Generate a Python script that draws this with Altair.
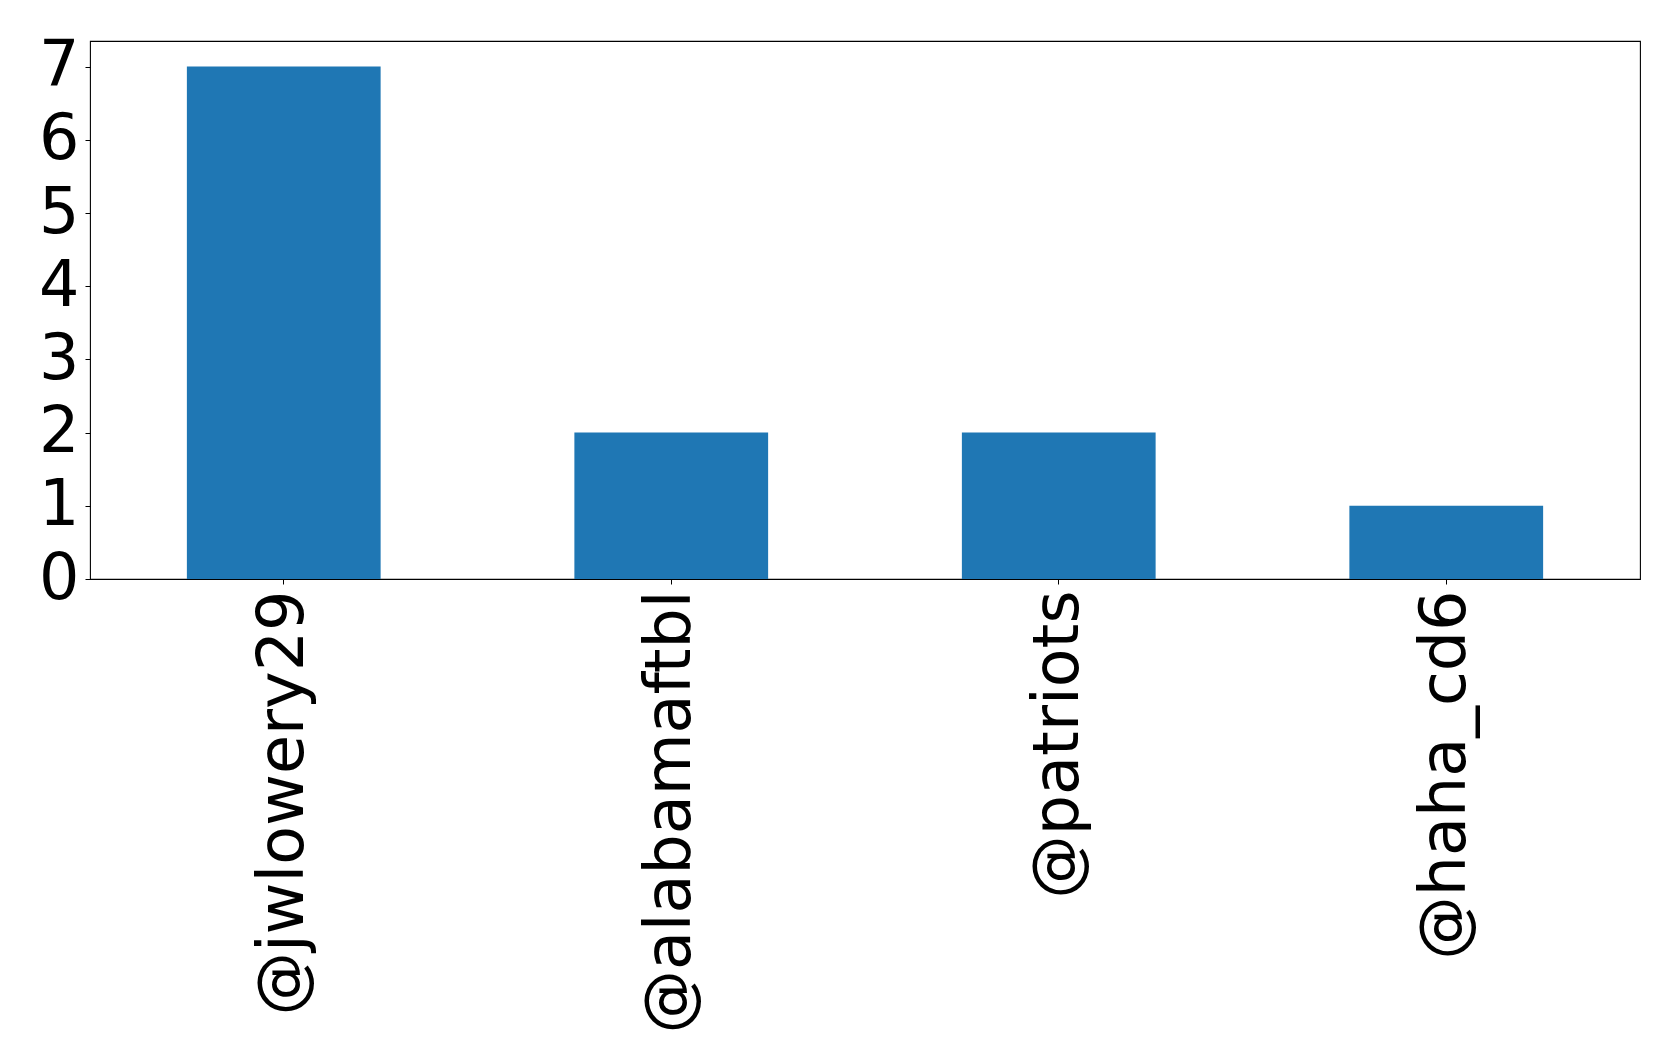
import altair as alt
import pandas as pd

users = ["@jwlowery29", "@alabamaftbl", "@patriots", "@haha_cd6"]
counts = [7, 2, 2, 1]
y_ticks = [0, 1, 2, 3, 4, 5, 6, 7]

df = pd.DataFrame({"user": users, "count": counts})

FONT = "DejaVu Sans"
FS = 63.5

chart = alt.Chart(df).mark_bar(color="#1f77b4").encode(
    x=alt.X(
        "user:N",
        sort=users,
        title=None,
        scale=alt.Scale(paddingInner=0.5, paddingOuter=0.25),
        axis=alt.Axis(
            labelAngle=-90,
            labelAlign="right",
            labelBaseline="middle",
            labelFontSize=FS,
            labelFont=FONT,
            labelColor="black",
            labelPadding=6,
            tickSize=5,
            tickColor="black",
            tickWidth=1,
            domain=False,
            grid=False,
            labelLimit=0,
        ),
    ),
    y=alt.Y(
        "count:Q",
        title=None,
        scale=alt.Scale(domain=[0, 7.35], nice=False, zero=True),
        axis=alt.Axis(
            values=y_ticks,
            format="d",
            labelFontSize=FS,
            labelFont=FONT,
            labelColor="black",
            labelPadding=6,
            tickSize=5,
            tickColor="black",
            tickWidth=1,
            domain=False,
            grid=False,
            labelFlush=False,
            labelOverlap=False,
        ),
    ),
).properties(
    width=1550,
    height=538,
    background="white",
    autosize=alt.AutoSizeParams(type="none"),
    padding={"left": 82, "top": 33, "right": 30, "bottom": 465},
).configure_view(
    stroke="black",
    strokeWidth=1.1,
)

chart.save("out.html", embed_options={"renderer": "svg", "actions": False})
